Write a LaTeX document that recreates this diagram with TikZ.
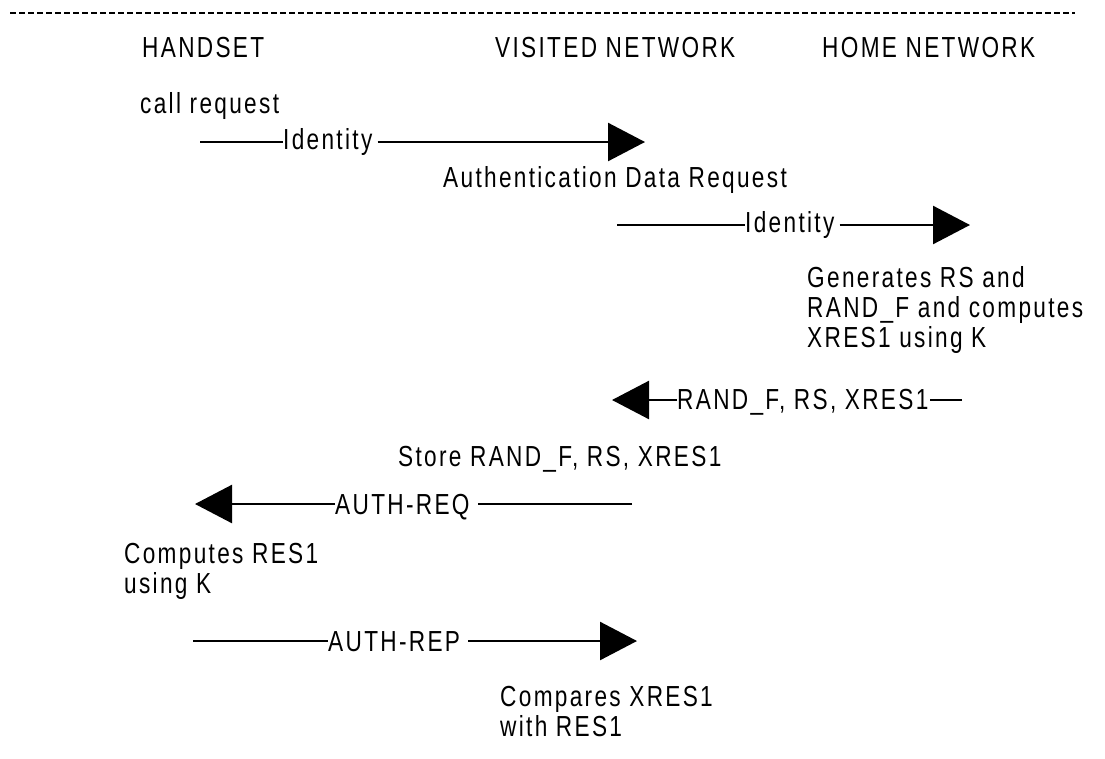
\documentclass[tikz,border=0pt]{standalone}
\usepackage{fontspec}
\setmainfont[FakeStretch=0.78,LetterSpace=8]{Liberation Sans}
\usetikzlibrary{arrows.meta}
\begin{document}
\begin{tikzpicture}[x=1pt,y=-1pt,
  txt/.style={font=\fontsize{29}{30}\selectfont, inner sep=0pt, anchor=base west, align=left},
  lbl/.style={txt},
  wire/.style={line width=2.5pt},
  msg/.style={line width=2.5pt, -{Triangle[length=37pt,width=38pt]}}]
\useasboundingbox (0,0) rectangle (1105,758);
\coordinate (dl) at (10,13);
\coordinate (dr) at (1075,13);
\draw[line width=2.5pt, dash pattern=on 6pt off 3pt] (dl) -- (dr);

\node[txt] (hs) at (142,57) {HANDSET};
\node[txt] (vn) at (495,57) {VISITED NETWORK};
\node[txt] (hn) at (822,57) {HOME NETWORK};

\node[txt] (cr) at (140,113) {call request};
% arrow 1
\coordinate (a1s) at (200,142);
\coordinate (a1e) at (645,142);
\node[lbl] (l1) at (283,149) {Identity};
\draw[wire] (a1s) -- (a1s -| l1.west);
\draw[msg] ([xshift=5pt]l1.east |- a1s) -- (a1e);

\node[txt] (adr) at (443,187) {Authentication Data Request};
% arrow 2
\coordinate (a2s) at (617,225);
\coordinate (a2e) at (970,225);
\node[lbl] (l2) at (745,232) {Identity};
\draw[wire] (a2s) -- (a2s -| l2.west);
\draw[msg] ([xshift=5pt]l2.east |- a2s) -- (a2e);

\node[txt] (gen) at (807,347) {Generates RS and\\RAND\_F and computes\\XRES1 using K};

% arrow 3
\coordinate (a3s) at (962,400);
\coordinate (a3e) at (612,400);
\node[lbl] (l3) at (677,409) {RAND\_F, RS, XRES1};
\draw[wire] (a3s) -- ([xshift=1pt]l3.east |- a3s);
\draw[msg] (a3s -| l3.west) -- (a3e);

\node[txt] (st) at (398,466) {Store RAND\_F, RS, XRES1};

% arrow 4
\coordinate (a4s) at (632,504);
\coordinate (a4e) at (195,504);
\node[lbl] (l4) at (335,514) {AUTH-REQ};
\draw[wire] (a4s) -- ([xshift=8pt]l4.east |- a4s);
\draw[msg] (a4s -| l4.west) -- (a4e);

\node[txt] (cp) at (124,593) {Computes RES1\\using K};

% arrow 5
\coordinate (a5s) at (193,641);
\coordinate (a5e) at (637,641);
\node[lbl] (l5) at (328,651) {AUTH-REP};
\draw[wire] (a5s) -- (a5s -| l5.west);
\draw[msg] ([xshift=8pt]l5.east |- a5s) -- (a5e);

\node[txt] (cm) at (500,736) {Compares XRES1\\with RES1};
\end{tikzpicture}
\end{document}
